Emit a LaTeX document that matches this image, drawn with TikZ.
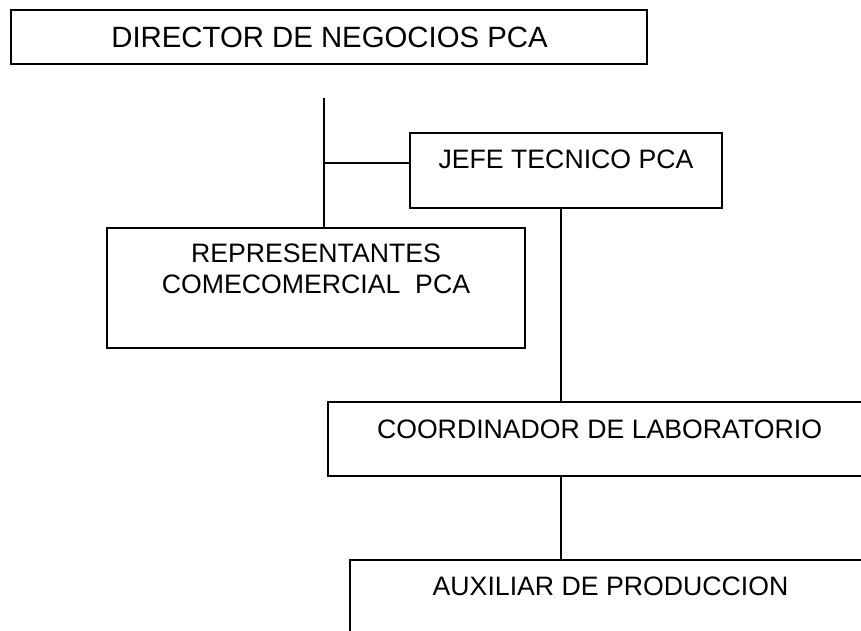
\documentclass[tikz,border=0pt]{standalone}
\usepackage{fontspec}
\setmainfont{Liberation Sans}
\begin{document}
\begin{tikzpicture}[x=0.75pt,y=-0.75pt,
  box/.style={draw,line width=1pt,inner sep=0pt,outer sep=0pt},
  lbl/.style={anchor=base,inner sep=0pt,align=center,font=\fontsize{20pt}{24pt}\selectfont},
  conn/.style={line width=1pt}]
\useasboundingbox (0,0) rectangle (861,631);
\clip (0,0) rectangle (861,631);
\fill[white] (0,0) rectangle (861,631);
% boxes
\node[box,minimum width=477pt,minimum height=40.5pt] (dir) at (329,37) {};
\node[box,minimum width=234pt,minimum height=56.25pt] (jefe) at (566,170.5) {};
\node[box,minimum width=313.5pt,minimum height=90pt] (repr) at (316,288) {};
\node[box,minimum width=407.25pt,minimum height=55.5pt] (coord) at (599.5,439) {};
\node[box,minimum width=390.75pt,minimum height=75pt] (aux) at (610.5,610) {};
% texts
\node[lbl,font=\fontsize{22pt}{26pt}\selectfont] (tdir) at (329.5,48) {DIRECTOR DE NEGOCIOS PCA};
\node[lbl] (tjefe) at (566,169) {JEFE TECNICO PCA};
\node[lbl] (trepr) at (316,294) {REPRESENTANTES\\COMECOMERCIAL\ \ PCA};
\node[lbl] (tcoord) at (599.5,438) {COORDINADOR DE LABORATORIO};
\node[lbl] (taux) at (610.5,595) {AUXILIAR DE PRODUCCION};
% connectors
\coordinate (top) at (324,98);
\coordinate (tee) at (324,163);
\coordinate (vj) at (561,300);
\draw[conn] (top) -- (top |- repr.north);
\draw[conn] (tee) -- (tee -| jefe.west);
\draw[conn] (vj |- jefe.south) -- (vj |- coord.north);
\draw[conn] (vj |- coord.south) -- (vj |- aux.north);
\end{tikzpicture}
\end{document}
